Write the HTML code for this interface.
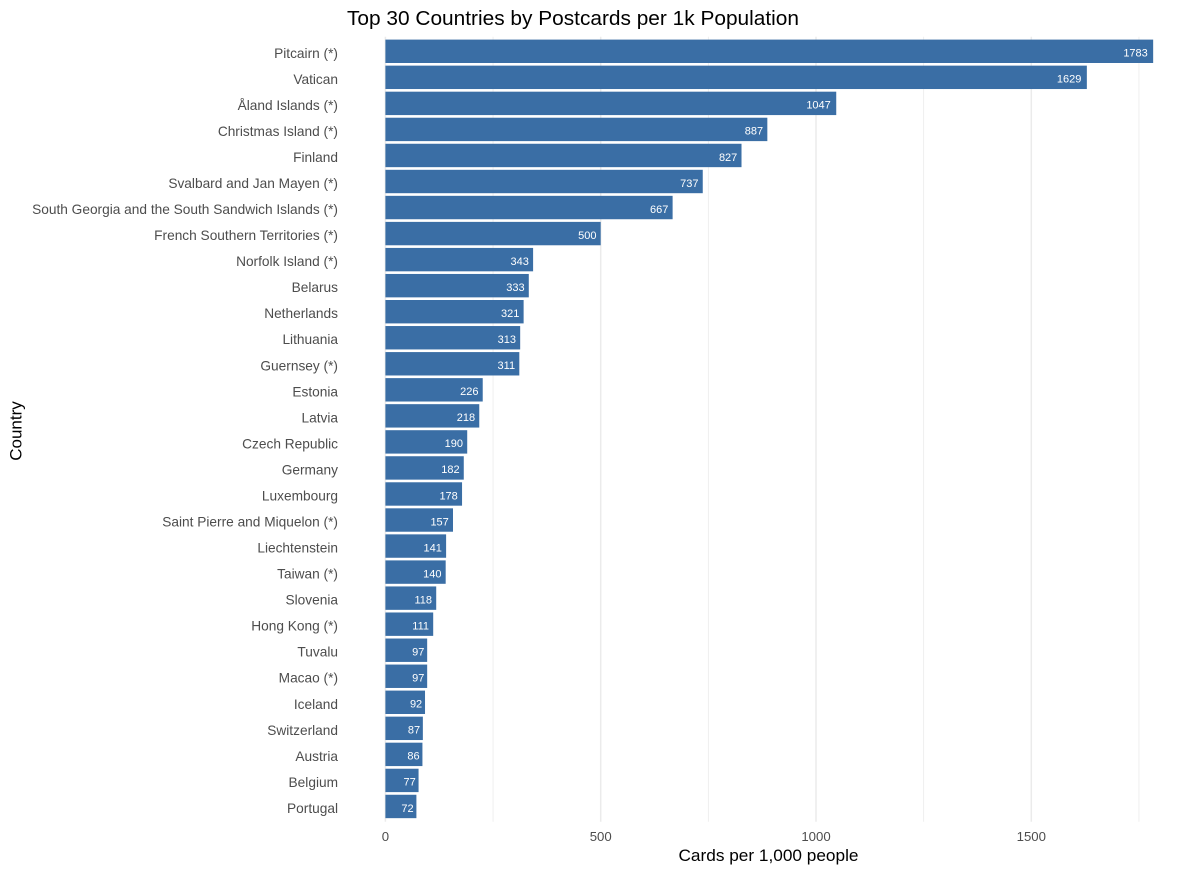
<!DOCTYPE html>
<html>
<head>
<meta charset="utf-8">
<style>
  html, body { margin: 0; padding: 0; background: #ffffff; }
  svg { display: block; }
  text { font-family: "Liberation Sans", Arial, sans-serif; }
  .yl { font-size: 13.7px; fill: #4d4d4d; text-anchor: end; }
  .vl { font-size: 11px; fill: #ffffff; text-anchor: end; }
  .xt { font-size: 13.2px; fill: #4d4d4d; text-anchor: middle; }
</style>
</head>
<body>
<svg width="1200" height="872" viewBox="0 0 1200 872" xmlns="http://www.w3.org/2000/svg">
  <rect x="0" y="0" width="1200" height="872" fill="#ffffff"/>
  <!-- gridlines -->
  <g stroke="#ebebeb">
    <line x1="493.05" y1="36.7" x2="493.05" y2="821.7" stroke-width="0.8"/>
    <line x1="708.35" y1="36.7" x2="708.35" y2="821.7" stroke-width="0.8"/>
    <line x1="923.65" y1="36.7" x2="923.65" y2="821.7" stroke-width="0.8"/>
    <line x1="1138.95" y1="36.7" x2="1138.95" y2="821.7" stroke-width="0.8"/>
    <line x1="385.4" y1="36.7" x2="385.4" y2="821.7" stroke-width="1.5"/>
    <line x1="600.7" y1="36.7" x2="600.7" y2="821.7" stroke-width="1.5"/>
    <line x1="816" y1="36.7" x2="816" y2="821.7" stroke-width="1.5"/>
    <line x1="1031.3" y1="36.7" x2="1031.3" y2="821.7" stroke-width="1.5"/>
  </g>
  <!-- bars -->
  <g fill="#3a6ea5">
    <rect x="385.4" y="39.6" width="767.76" height="23.4"/>
    <rect x="385.4" y="65.64" width="701.45" height="23.4"/>
    <rect x="385.4" y="91.68" width="450.84" height="23.4"/>
    <rect x="385.4" y="117.72" width="381.94" height="23.4"/>
    <rect x="385.4" y="143.76" width="356.11" height="23.4"/>
    <rect x="385.4" y="169.8" width="317.35" height="23.4"/>
    <rect x="385.4" y="195.84" width="287.21" height="23.4"/>
    <rect x="385.4" y="221.88" width="215.3" height="23.4"/>
    <rect x="385.4" y="247.92" width="147.70" height="23.4"/>
    <rect x="385.4" y="273.96" width="143.39" height="23.4"/>
    <rect x="385.4" y="300.0" width="138.22" height="23.4"/>
    <rect x="385.4" y="326.04" width="134.78" height="23.4"/>
    <rect x="385.4" y="352.08" width="133.92" height="23.4"/>
    <rect x="385.4" y="378.12" width="97.32" height="23.4"/>
    <rect x="385.4" y="404.16" width="93.87" height="23.4"/>
    <rect x="385.4" y="430.2" width="81.81" height="23.4"/>
    <rect x="385.4" y="456.24" width="78.37" height="23.4"/>
    <rect x="385.4" y="482.28" width="76.65" height="23.4"/>
    <rect x="385.4" y="508.32" width="67.60" height="23.4"/>
    <rect x="385.4" y="534.36" width="60.71" height="23.4"/>
    <rect x="385.4" y="560.4" width="60.28" height="23.4"/>
    <rect x="385.4" y="586.44" width="50.81" height="23.4"/>
    <rect x="385.4" y="612.48" width="47.80" height="23.4"/>
    <rect x="385.4" y="638.52" width="41.77" height="23.4"/>
    <rect x="385.4" y="664.56" width="41.77" height="23.4"/>
    <rect x="385.4" y="690.6" width="39.62" height="23.4"/>
    <rect x="385.4" y="716.64" width="37.46" height="23.4"/>
    <rect x="385.4" y="742.68" width="37.03" height="23.4"/>
    <rect x="385.4" y="768.72" width="33.16" height="23.4"/>
    <rect x="385.4" y="794.76" width="31.00" height="23.4"/>
  </g>
  <!-- value labels -->
  <g transform="translate(0,1.3)">
    <text class="vl" x="1147.8" y="55.3">1783</text>
    <text class="vl" x="1081.4" y="81.34">1629</text>
    <text class="vl" x="830.8" y="107.38">1047</text>
    <text class="vl" x="763.1" y="133.42">887</text>
    <text class="vl" x="737.3" y="159.46">827</text>
    <text class="vl" x="698.5" y="185.5">737</text>
    <text class="vl" x="668.4" y="211.54">667</text>
    <text class="vl" x="596.5" y="237.58">500</text>
    <text class="vl" x="528.9" y="263.62">343</text>
    <text class="vl" x="524.6" y="289.66">333</text>
    <text class="vl" x="519.4" y="315.7">321</text>
    <text class="vl" x="516.0" y="341.74">313</text>
    <text class="vl" x="515.1" y="367.78">311</text>
    <text class="vl" x="478.5" y="393.82">226</text>
    <text class="vl" x="475.1" y="419.86">218</text>
    <text class="vl" x="463.0" y="445.9">190</text>
    <text class="vl" x="459.6" y="471.94">182</text>
    <text class="vl" x="457.8" y="497.98">178</text>
    <text class="vl" x="448.8" y="524.02">157</text>
    <text class="vl" x="441.9" y="550.06">141</text>
    <text class="vl" x="441.5" y="576.1">140</text>
    <text class="vl" x="432.0" y="602.14">118</text>
    <text class="vl" x="429.0" y="628.18">111</text>
    <text class="vl" x="424.4" y="654.22">97</text>
    <text class="vl" x="424.4" y="680.26">97</text>
    <text class="vl" x="422.2" y="706.3">92</text>
    <text class="vl" x="420.1" y="732.34">87</text>
    <text class="vl" x="419.6" y="758.38">86</text>
    <text class="vl" x="415.8" y="784.42">77</text>
    <text class="vl" x="413.6" y="810.46">72</text>
  </g>
  <!-- y labels -->
  <g transform="translate(0,1.7)">
    <text class="yl" x="338" y="56.1">Pitcairn (*)</text>
    <text class="yl" x="338" y="82.14">Vatican</text>
    <text class="yl" x="338" y="108.18">Åland Islands (*)</text>
    <text class="yl" x="338" y="134.22">Christmas Island (*)</text>
    <text class="yl" x="338" y="160.26">Finland</text>
    <text class="yl" x="338" y="186.3">Svalbard and Jan Mayen (*)</text>
    <text class="yl" x="338" y="212.34">South Georgia and the South Sandwich Islands (*)</text>
    <text class="yl" x="338" y="238.38">French Southern Territories (*)</text>
    <text class="yl" x="338" y="264.42">Norfolk Island (*)</text>
    <text class="yl" x="338" y="290.46">Belarus</text>
    <text class="yl" x="338" y="316.5">Netherlands</text>
    <text class="yl" x="338" y="342.54">Lithuania</text>
    <text class="yl" x="338" y="368.58">Guernsey (*)</text>
    <text class="yl" x="338" y="394.62">Estonia</text>
    <text class="yl" x="338" y="420.66">Latvia</text>
    <text class="yl" x="338" y="446.7">Czech Republic</text>
    <text class="yl" x="338" y="472.74">Germany</text>
    <text class="yl" x="338" y="498.78">Luxembourg</text>
    <text class="yl" x="338" y="524.82">Saint Pierre and Miquelon (*)</text>
    <text class="yl" x="338" y="550.86">Liechtenstein</text>
    <text class="yl" x="338" y="576.9">Taiwan (*)</text>
    <text class="yl" x="338" y="602.94">Slovenia</text>
    <text class="yl" x="338" y="628.98">Hong Kong (*)</text>
    <text class="yl" x="338" y="655.02">Tuvalu</text>
    <text class="yl" x="338" y="681.06">Macao (*)</text>
    <text class="yl" x="338" y="707.1">Iceland</text>
    <text class="yl" x="338" y="733.14">Switzerland</text>
    <text class="yl" x="338" y="759.18">Austria</text>
    <text class="yl" x="338" y="785.22">Belgium</text>
    <text class="yl" x="338" y="811.26">Portugal</text>
  </g>
  <!-- x tick labels -->
  <text class="xt" x="385.4" y="841">0</text>
  <text class="xt" x="600.7" y="841">500</text>
  <text class="xt" x="816" y="841">1000</text>
  <text class="xt" x="1031.3" y="841">1500</text>
  <!-- axis titles -->
  <text x="768.5" y="861" font-size="17" fill="#000000" text-anchor="middle" textLength="180" lengthAdjust="spacingAndGlyphs">Cards per 1,000 people</text>
  <text x="0" y="0" font-size="17" fill="#000000" text-anchor="middle" transform="translate(21.5,431) rotate(-90)">Country</text>
  <!-- title -->
  <text x="347" y="25" font-size="20.5" fill="#000000" textLength="452" lengthAdjust="spacingAndGlyphs">Top 30 Countries by Postcards per 1k Population</text>
</svg>
</body>
</html>
